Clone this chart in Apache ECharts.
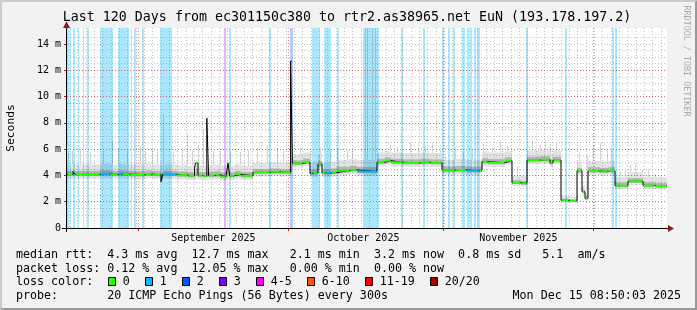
<!DOCTYPE html>
<html><head><meta charset="utf-8">
<script src="https://cdn.jsdelivr.net/npm/echarts@6/dist/echarts.min.js"></script>
<style>html,body{margin:0;padding:0;background:#f2f2f2}#c{width:697px;height:310px}</style>
</head><body><div id="c"></div>
<script>
// ---------------- data (x in days since graph start, y in ms) ----------------
const TITLE = 'Last 120 Days from ec301150c380 to rtr2.as38965.net EuN (193.178.197.2)';
const monthStarts = [14.26, 44.26, 75.26, 105.26];
const monthLabelPos = [29.26, 59.26, 90.26];
const monthLabels = ['September 2025', 'October 2025', 'November 2025'];
const yMajorTicks = [0, 2, 4, 6, 8, 10, 12, 14];
const yTickLabels = ['0', '2 m', '4 m', '6 m', '8 m', '10 m', '12 m', '14 m'];

// median rtt, step series: value holds from medDay[i] to medDay[i+1]
const medDay = [0, 1.2, 1.6, 6.6, 8.6, 10.2, 11.0, 12.6, 15.6, 17.0, 18.8, 19.1, 22.0, 24.2, 25.5,
  25.7, 26.2, 27.2, 27.96, 28.32, 29.6, 30.6, 31.8, 32.2, 32.52, 33.6, 34.8, 37.2, 40.6, 42.6,
  44.72, 45.08, 47.2, 48.6, 49.2, 50.2, 51.0, 51.8, 52.8, 54.0, 56.6, 58.0, 62.0, 63.6, 64.8,
  67.2, 70.6, 72.6, 75.0, 77.6, 79.8, 82.4, 83.0, 84.2, 87.6, 89.0, 90.8, 92.0, 94.6, 96.6,
  97.2, 98.8, 100.4, 102.0, 103.0, 103.6, 104.2, 106.6, 108.2, 109.6, 112.2, 115.2, 117.6];
const medVal = [4.08, 4.3, 4.08, 4.12, 4.08, 4.12, 4.1, 4.06, 4.1, 4.05, 3.52, 4.08, 4.02, 3.98, 4.55,
  4.95, 4.0, 3.96, 8.35, 4.0, 4.05, 3.92, 4.0, 4.95, 3.98, 4.08, 3.98, 4.24, 4.28, 4.24,
  12.7, 4.92, 5.02, 4.15, 4.18, 4.88, 4.2, 4.18, 4.22, 4.36, 4.42, 4.3, 5.0, 5.12, 5.0,
  4.96, 5.0, 4.96, 4.4, 4.42, 4.36, 4.4, 5.05, 4.97, 5.12, 3.45, 3.4, 5.17, 5.2, 4.95,
  5.15, 2.1, 2.06, 4.36, 2.77, 2.25, 4.34, 4.3, 4.34, 3.22, 3.56, 3.24, 3.2];
const medLoss = [0, 0, 0, 1, 0, 1, 0, 0, 0, 0, 0, 1, 0, 0, 0,
  0, 0, 0, 0, 0, 0, 0, 0, 0, 0, 0, 0, 0, 0, 0,
  2, 0, 0, 1, 0, 0, 0, 1, 0, 0, 0, 1, 0, 0, 0,
  0, 0, 0, 0, 0, 1, 0, 0, 0, 0, 0, 0, 0, 0, 0,
  0, 0, 0, 0, 0, 0, 0, 0, 0, 0, 0, 0, 0];
// smoke (spread of the 20 pings) per median segment
const smokeLo = [3.75, 3.8, 3.75, 3.78, 3.75, 3.78, 3.76, 3.72, 3.75, 3.72, 3.45, 3.75, 3.7, 3.65, 3.7,
  3.75, 3.68, 3.65, 3.65, 3.68, 3.7, 3.6, 3.65, 3.7, 3.65, 3.72, 3.65, 3.92, 3.95, 3.92,
  4.0, 4.6, 4.7, 3.85, 3.85, 4.5, 3.88, 3.85, 3.9, 4.02, 4.1, 3.95, 4.68, 4.8, 4.68,
  4.65, 4.68, 4.65, 4.05, 4.08, 4.02, 4.05, 4.72, 4.65, 4.8, 3.2, 3.15, 4.85, 4.88, 4.65,
  4.85, 1.95, 1.92, 4.05, 2.55, 2.1, 4.05, 4.0, 4.05, 2.95, 3.25, 2.95, 2.92];
const smokeHi = [4.85, 4.9, 4.85, 4.9, 4.85, 4.9, 4.85, 4.85, 4.9, 4.85, 4.8, 4.85, 4.8, 4.75, 4.9,
  5.2, 4.75, 4.75, 4.8, 4.8, 4.85, 4.75, 4.8, 4.9, 4.75, 4.85, 4.75, 4.95, 5.0, 4.95,
  5.3, 5.6, 5.75, 4.95, 5.0, 5.6, 5.0, 5.0, 5.05, 5.2, 5.25, 5.2, 5.75, 5.85, 5.75,
  5.7, 5.75, 5.7, 5.2, 5.25, 5.2, 5.2, 5.8, 5.75, 5.85, 4.0, 3.95, 5.9, 5.95, 5.7,
  5.9, 2.45, 2.4, 5.0, 3.2, 2.6, 5.1, 5.05, 5.1, 3.9, 4.25, 3.9, 3.85];
// occasional slow pings (smoke spikes): day, top in ms
const spikeDay = [0.2, 1.0, 2.6, 4.6, 7.2, 9.0, 10.2, 12.0, 14.6, 15.6, 17.0, 18.0, 19.2, 21.2, 23.0,
  24.0, 25.0, 26.2, 27.2, 29.2, 30.6, 32.6, 34.6, 36.2, 38.0, 40.0, 42.0, 43.2, 46.6, 48.6,
  50.6, 52.6, 54.0, 56.0, 57.0, 59.6, 59.9, 61.0, 61.6, 63.0, 64.6, 66.0, 68.6, 70.2, 71.6,
  73.0, 74.6, 75.6, 77.6, 79.2, 81.0, 83.2, 85.0, 86.6, 88.0, 90.0, 93.0, 94.6, 95.6, 96.6,
  97.8, 102.4, 104.0, 105.2, 106.6, 108.0, 108.8, 110.6, 111.6, 112.6, 113.6, 115.0, 116.2, 117.6, 118.6];
const spikeTop = [5.7, 5.9, 6.1, 5.8, 5.9, 6.7, 6.1, 5.9, 6.2, 5.8, 6.1, 5.9, 8.7, 5.9, 6.1,
  7.2, 5.9, 6.3, 7.5, 5.9, 5.9, 5.8, 5.8, 5.9, 6.1, 6.3, 6.1, 5.9, 6.1, 5.9,
  6.1, 5.9, 6.1, 5.9, 5.95, 15.3, 15.3, 15.3, 15.3, 6.0, 6.4, 6.2, 6.5, 6.2, 6.3,
  6.5, 6.1, 5.4, 6.1, 5.8, 5.9, 6.5, 6.1, 6.6, 6.2, 4.7, 6.7, 6.3, 6.6, 6.4,
  6.5, 5.7, 5.5, 6.3, 6.5, 6.0, 6.0, 4.3, 4.4, 4.8, 4.9, 4.5, 4.4, 4.1, 4.0];
// loss background bands: start day, end day, loss class
const lossBands = [[0, 0.3, 1], [0.5, 0.8, 1], [1.26, 1.6, 1], [2.1, 2.4, 1], [3.1, 3.4, 1], [3.9, 4.3, 1],
  [6.6, 9.1, 1], [10.1, 12.3, 1], [12.7, 13.0, 1], [13.3, 13.7, 1], [15.0, 15.3, 1], [18.6, 21.0, 1],
  [31.4, 31.7, 3], [32.3, 32.7, 1], [40.3, 40.7, 1], [44.6, 45.2, 2], [49.0, 50.6, 1], [51.3, 52.7, 1],
  [54.0, 54.4, 1], [59.1, 62.3, 1], [66.8, 67.2, 1], [71.2, 71.6, 1], [74.9, 75.3, 1], [76.2, 76.6, 1],
  [77.2, 77.6, 1], [79.0, 79.5, 1], [79.9, 80.4, 1], [80.6, 81.0, 1], [81.3, 81.8, 1], [82.0, 82.5, 1],
  [91.8, 92.2, 1], [99.6, 100.0, 1], [109.0, 109.3, 1], [109.6, 110.0, 1]];
const lossLegend = ['0', '1', '2', '3', '4-5', '6-10', '11-19', '20/20'];
const lossColors = ['#26ff00', '#00b8ff', '#0059ff', '#7e00ff', '#ff00ff', '#ff5500', '#ff0000', '#a10000'];
const statLine1 = 'median rtt:  4.3 ms avg  12.7 ms max   2.1 ms min  3.2 ms now  0.8 ms sd   5.1  am/s';
const statLine2 = 'packet loss: 0.12 % avg  12.05 % max   0.00 % min  0.00 % now';
const probeLine = 'probe:       20 ICMP Echo Pings (56 Bytes) every 300s';
const dateLine = 'Mon Dec 15 08:50:03 2025';

// ---------------- layout ----------------
const G = {left: 67, top: 28, width: 600, height: 200};
const X_MAX = 120, Y_MAX = 15.22;
const MONO = 'DejaVu Sans Mono';
const bandFill = {1: 'rgba(0,184,255,0.33)', 2: 'rgba(0,89,255,0.3)', 3: 'rgba(126,0,255,0.28)'};
const minorXStep = 1.6667, minorXPhase = 0.47;
const minorXTicks = [];
for (let v = minorXPhase; v < X_MAX; v += minorXStep) minorXTicks.push(+v.toFixed(3));
const minorYTicks = [];
for (let v = 0.5; v < Y_MAX; v += 0.5) minorYTicks.push(v);

const n = medDay.length;
const segEnd = i => (i + 1 < n ? medDay[i + 1] : X_MAX);
const segData = medDay.map((d, i) => [d, segEnd(i), medVal[i], medLoss[i]]);
const smokeOuter = medDay.map((d, i) => [d, segEnd(i), smokeLo[i], smokeHi[i]]);
const smokeInner = medDay.map((d, i) => [d, segEnd(i), smokeLo[i] + (smokeHi[i] - smokeLo[i]) * 0.18, smokeLo[i] + (smokeHi[i] - smokeLo[i]) * 0.55]);
const lineData = medDay.map((d, i) => [d, medVal[i]]).concat([[X_MAX, medVal[n - 1]]]);
function segIndexAt(day) { let k = 0; for (let i = 0; i < n; i++) if (medDay[i] <= day) k = i; return k; }
const spikeData = spikeDay.map((d, i) => [d, smokeHi[segIndexAt(d)], Math.min(spikeTop[i], Y_MAX)]);

function rectItem(fill) {
  return function (params, api) {
    const a = api.coord([api.value(0), api.value(3)]);
    const b = api.coord([api.value(1), api.value(2)]);
    const x0 = Math.round(a[0]), x1 = Math.max(x0 + 1, Math.round(b[0]));
    return {type: 'rect', shape: {x: x0, y: a[1], width: x1 - x0, height: b[1] - a[1]}, style: {fill: fill}};
  };
}

const chart = echarts.init(document.getElementById('c'), null, {renderer: 'canvas', width: 697, height: 310});
const graphic = [];
// 3D frame
graphic.push({type: 'polygon', shape: {points: [[0, 0], [697, 0], [695, 2], [2, 2], [2, 308], [0, 310]]}, style: {fill: '#cbcbcb'}, silent: true});
graphic.push({type: 'polygon', shape: {points: [[697, 0], [697, 310], [0, 310], [2, 308], [695, 308], [695, 2]]}, style: {fill: '#999999'}, silent: true});
graphic.push({type: 'text', x: 347, y: 18, style: {text: TITLE, font: '13.3px "' + MONO + '"', fill: '#000', align: 'center', verticalAlign: 'middle'}, z: 10});
graphic.push({type: 'text', x: 686, y: 61, rotation: -Math.PI / 2, style: {text: 'RRDTOOL / TOBI OETIKER', font: '8.4px "' + MONO + '"', fill: '#aaaaaa', align: 'center', verticalAlign: 'middle'}, z: 10});
graphic.push({type: 'text', x: 11, y: 128, rotation: Math.PI / 2, style: {text: 'Seconds', font: '11.3px "' + MONO + '"', fill: '#000', align: 'center', verticalAlign: 'middle'}, z: 10});
// axis lines and arrows
graphic.push({type: 'line', shape: {x1: 62, y1: 228.5, x2: 669, y2: 228.5}, style: {stroke: '#000', lineWidth: 1}, z: 20});
graphic.push({type: 'line', shape: {x1: 66.5, y1: 232, x2: 66.5, y2: 26}, style: {stroke: '#000', lineWidth: 1}, z: 20});
graphic.push({type: 'polygon', shape: {points: [[668, 225], [674, 228.5], [668, 232]]}, style: {fill: '#8b1a1a'}, z: 21});
graphic.push({type: 'polygon', shape: {points: [[63, 28], [66.5, 21.5], [70, 28]]}, style: {fill: '#8b1a1a'}, z: 21});
// legend
const legFont = '11.66px "' + MONO + '"';
graphic.push({type: 'text', x: 16, y: 254.5, style: {text: statLine1, font: legFont, fill: '#000', verticalAlign: 'middle'}});
graphic.push({type: 'text', x: 16, y: 268.5, style: {text: statLine2, font: legFont, fill: '#000', verticalAlign: 'middle'}});
graphic.push({type: 'text', x: 16, y: 282, style: {text: 'loss color:', font: legFont, fill: '#000', verticalAlign: 'middle'}});
const boxX = [108.5, 145.5, 182.5, 219.5, 256.5, 307.5, 365.5, 430.5];
lossLegend.forEach((lab, i) => {
  graphic.push({type: 'rect', shape: {x: boxX[i], y: 277.5, width: 7, height: 8}, style: {fill: lossColors[i], stroke: '#000', lineWidth: 1}});
  graphic.push({type: 'text', x: boxX[i] + 14.3, y: 282, style: {text: lab, font: legFont, fill: '#000', verticalAlign: 'middle'}});
});
graphic.push({type: 'text', x: 16, y: 296, style: {text: probeLine, font: legFont, fill: '#000', verticalAlign: 'middle'}});
graphic.push({type: 'text', x: 681, y: 296, style: {text: dateLine, font: legFont, fill: '#000', align: 'right', verticalAlign: 'middle'}});

const option = {
  animation: false,
  backgroundColor: '#f2f2f2',
  graphic: graphic,
  grid: {left: G.left, top: G.top, width: G.width, height: G.height, containLabel: false, outerBoundsMode: 'none',
    show: true, backgroundColor: '#ffffff', borderWidth: 0},
  xAxis: [
    {type: 'value', min: 0, max: X_MAX, position: 'bottom', z: 4,
      axisLine: {show: false},
      axisTick: {show: true, customValues: monthStarts, length: 3, lineStyle: {color: '#ff0000'}},
      axisLabel: {show: true, customValues: monthLabelPos, margin: 5, fontFamily: MONO, fontSize: 10, color: '#000',
        formatter: v => { const i = monthLabelPos.findIndex(p => Math.abs(p - v) < 1e-6); return i >= 0 ? monthLabels[i] : ''; }},
      splitLine: {show: true, lineStyle: {color: 'rgba(255,0,0,0.45)', type: [1, 2], width: 1}}},
    {type: 'value', min: 0, max: X_MAX, position: 'top', z: 3,
      axisLine: {show: false}, axisLabel: {show: false},
      axisTick: {show: false, customValues: minorXTicks},
      splitLine: {show: true, lineStyle: {color: 'rgba(110,110,110,0.42)', type: [1, 2], width: 1}}}
  ],
  yAxis: [
    {type: 'value', min: 0, max: Y_MAX, interval: 2, position: 'left', z: 4,
      axisLine: {show: false},
      axisTick: {show: true, customValues: yMajorTicks, length: 3, lineStyle: {color: '#ff0000'}},
      axisLabel: {show: true, customValues: yMajorTicks, margin: 6, fontFamily: MONO, fontSize: 10, color: '#000',
        formatter: v => { const i = yMajorTicks.indexOf(v); return i >= 0 ? yTickLabels[i] : ''; }},
      splitLine: {show: true, showMinLine: false, showMaxLine: false, lineStyle: {color: 'rgba(255,0,0,0.45)', type: [1, 2], width: 1}}},
    {type: 'value', min: 0, max: Y_MAX, interval: 0.5, position: 'right', z: 3,
      axisLine: {show: false}, axisLabel: {show: false},
      axisTick: {show: false, customValues: minorYTicks},
      splitLine: {show: true, showMinLine: false, showMaxLine: false, lineStyle: {color: 'rgba(110,110,110,0.42)', type: [1, 2], width: 1}}}
  ],
  series: [
    {type: 'custom', name: 'loss background', z: 1, xAxisIndex: 0, yAxisIndex: 0, silent: true,
      encode: {x: [0, 1], y: 2}, data: lossBands,
      renderItem: function (params, api) {
        const a = api.coord([api.value(0), Y_MAX]);
        const b = api.coord([api.value(1), 0]);
        const x0 = Math.round(a[0]), x1 = Math.max(x0 + 1, Math.round(b[0]));
        return {type: 'rect', shape: {x: x0, y: a[1], width: x1 - x0, height: b[1] - a[1]}, style: {fill: bandFill[api.value(2)]}};
      }},
    {type: 'custom', name: 'smoke', z: 2, xAxisIndex: 0, yAxisIndex: 0, silent: true,
      encode: {x: [0, 1], y: [2, 3]}, data: smokeOuter, renderItem: rectItem('rgba(0,0,0,0.11)')},
    {type: 'custom', name: 'smoke core', z: 2, xAxisIndex: 0, yAxisIndex: 0, silent: true,
      encode: {x: [0, 1], y: [2, 3]}, data: smokeInner, renderItem: rectItem('rgba(0,0,0,0.2)')},
    {type: 'custom', name: 'spikes', z: 2, xAxisIndex: 0, yAxisIndex: 0, silent: true,
      encode: {x: 0, y: [1, 2]}, data: spikeData,
      renderItem: function (params, api) {
        const a = api.coord([api.value(0), api.value(1)]);
        const b = api.coord([api.value(0), api.value(2)]);
        const x = Math.round(a[0]) + 0.5;
        return {type: 'line', shape: {x1: x, y1: a[1], x2: x, y2: b[1]}, style: {stroke: 'rgba(0,0,0,0.17)', lineWidth: 1}};
      }},
    {type: 'line', name: 'median', z: 5, xAxisIndex: 0, yAxisIndex: 0, step: 'end', symbol: 'none',
      data: lineData, lineStyle: {color: '#000', width: 1}},
    {type: 'custom', name: 'median loss colour', z: 6, xAxisIndex: 0, yAxisIndex: 0, silent: true,
      encode: {x: [0, 1], y: 2}, data: segData,
      renderItem: function (params, api) {
        const a = api.coord([api.value(0), api.value(2)]);
        const b = api.coord([api.value(1), api.value(2)]);
        return {type: 'line', shape: {x1: a[0] + 0.5, y1: a[1], x2: b[0] - 0.5, y2: b[1]}, style: {stroke: lossColors[api.value(3)], lineWidth: 2}};
      }}
  ]
};
chart.setOption(option);
</script>
</body></html>
